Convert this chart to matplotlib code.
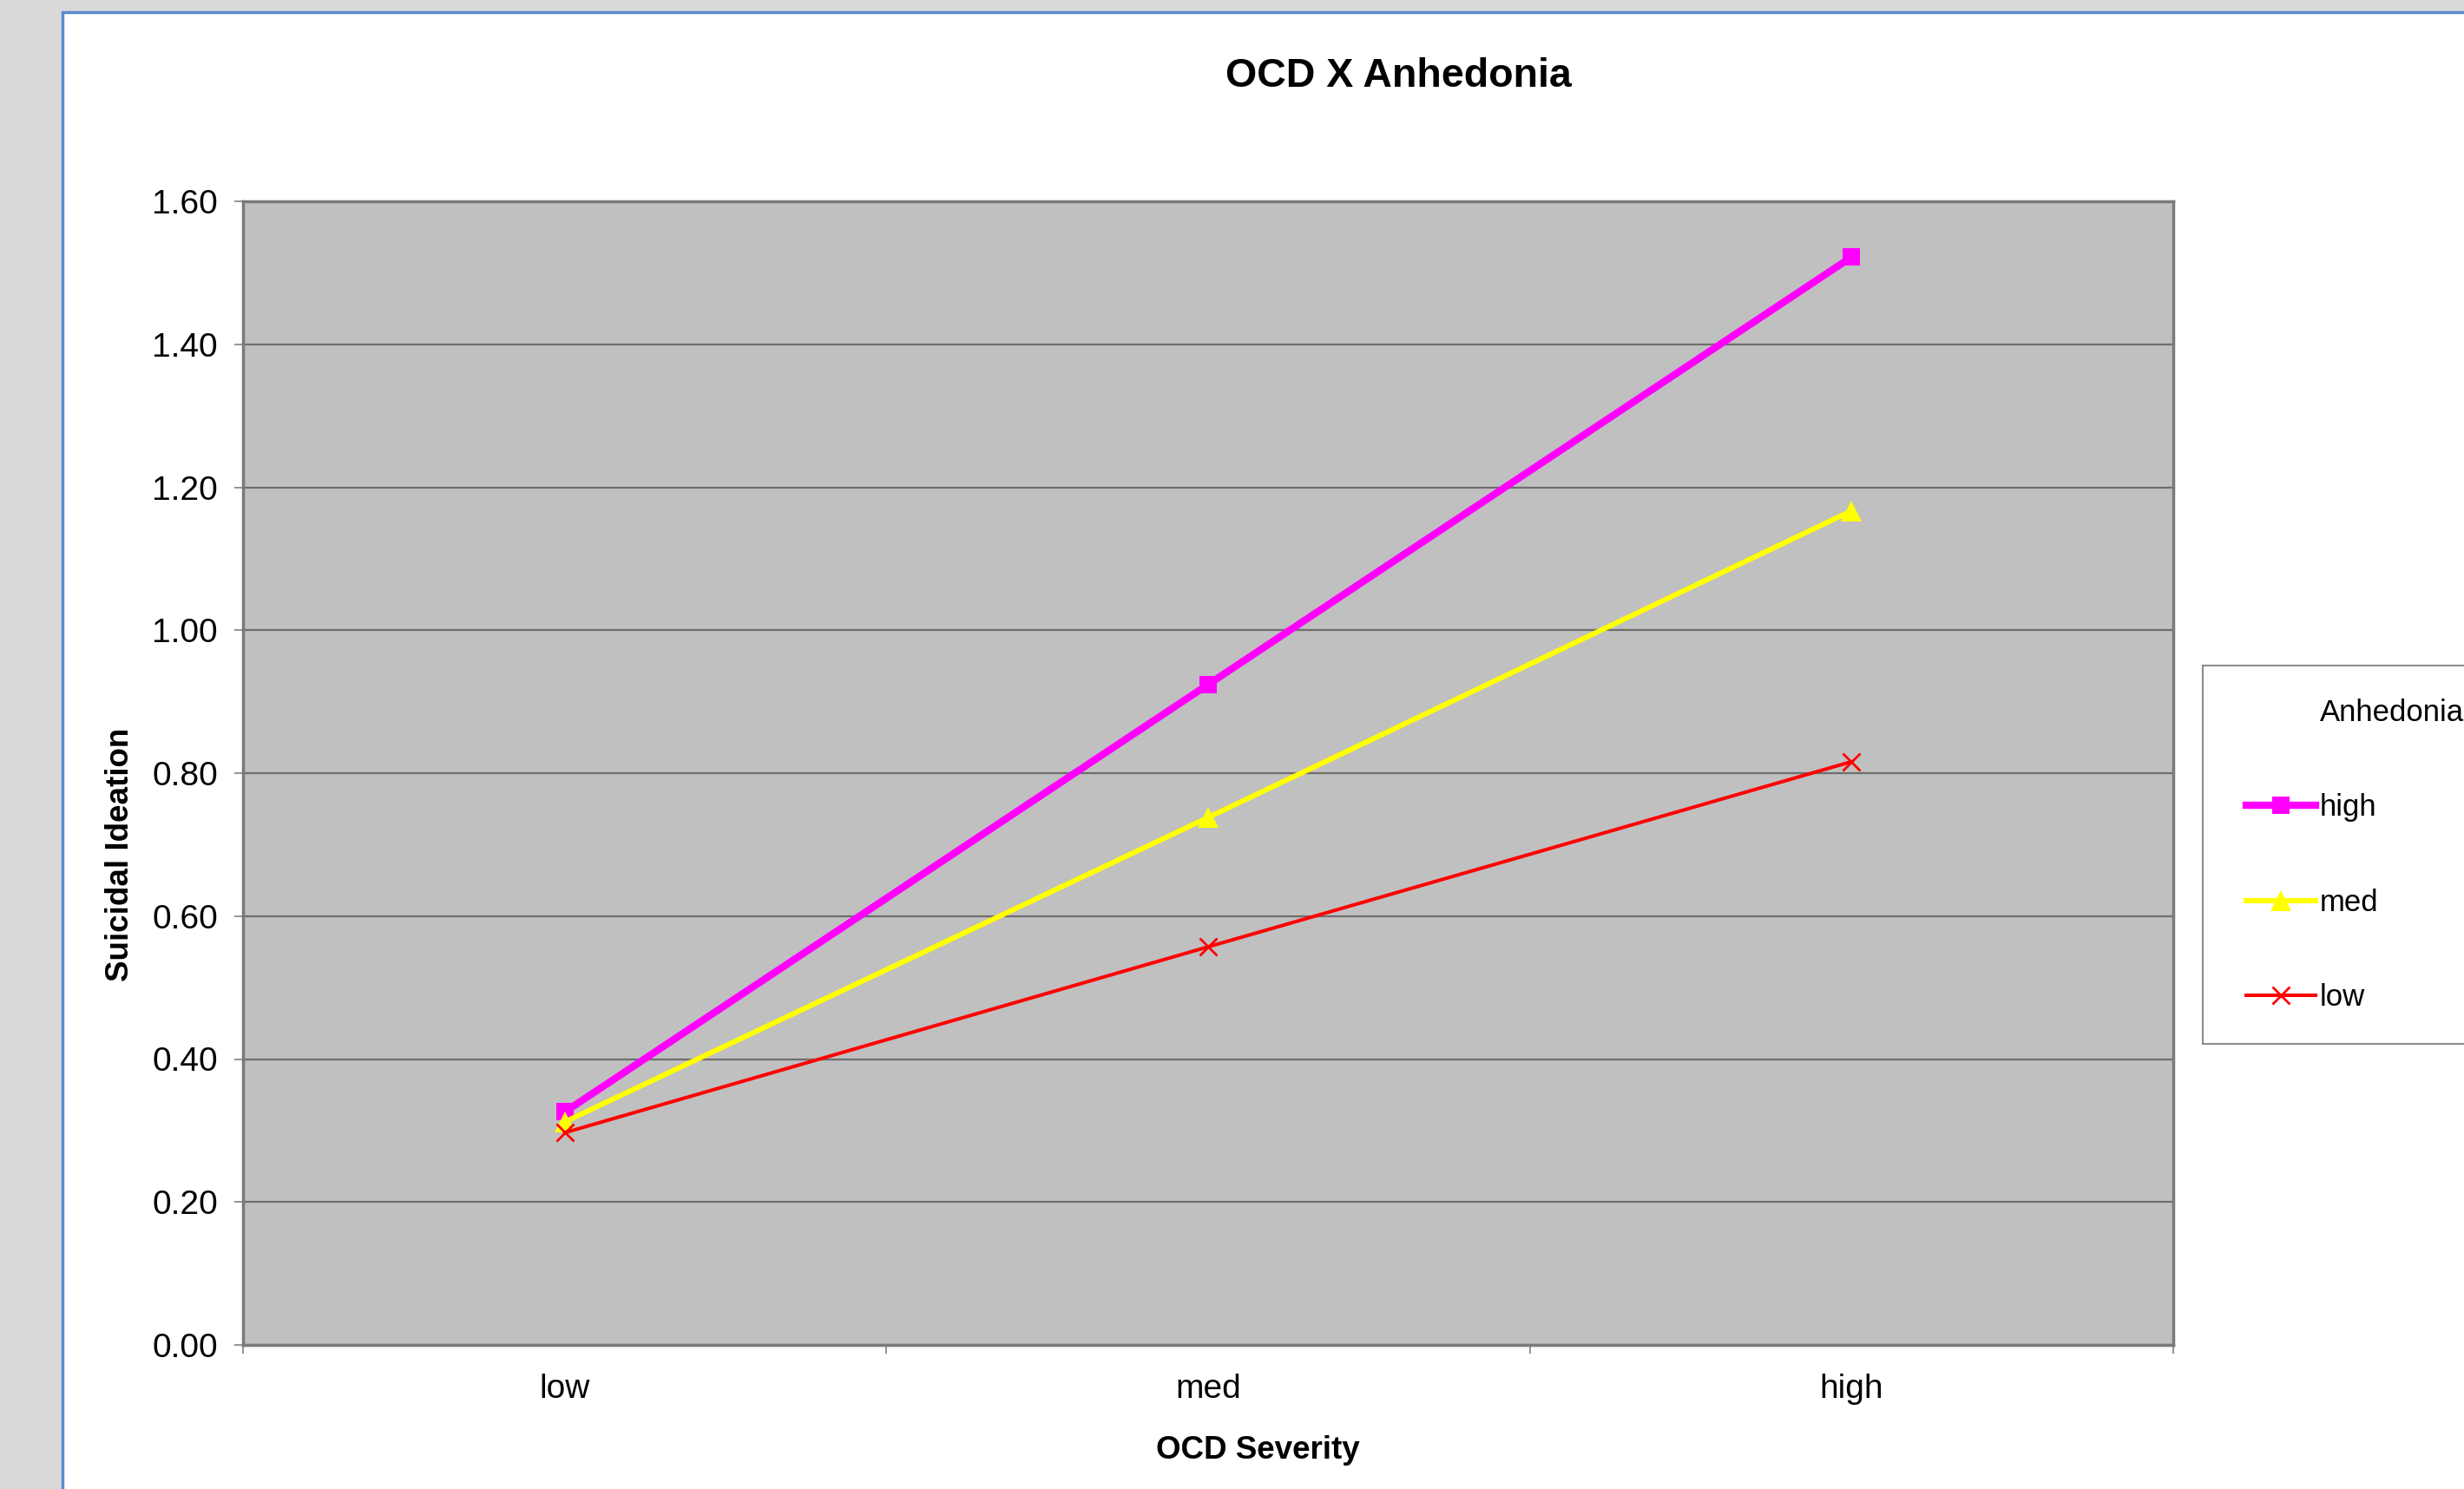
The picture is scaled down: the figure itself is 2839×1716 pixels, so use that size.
import matplotlib.pyplot as plt
from matplotlib.lines import Line2D
from matplotlib.patches import Rectangle

plt.rcParams['font.family'] = ['Liberation Sans', 'DejaVu Sans']

severity = ['low', 'med', 'high']
anhedonia_levels = ['high', 'med', 'low']
suicidal_ideation = {
    'high': [0.326, 0.924, 1.522],
    'med': [0.312, 0.738, 1.167],
    'low': [0.297, 0.557, 0.816],
}
y_ticks = [0.0, 0.2, 0.4, 0.6, 0.8, 1.0, 1.2, 1.4, 1.6]

W, H = 2839, 1716
fig = plt.figure(figsize=(W / 100, H / 100), dpi=100)
fig.patch.set_facecolor('#d9d9d9')

# white chart sheet with blue outline, running off the right/bottom
sheet = Rectangle((72 / W, -0.05), 1.1, 1 - 14 / H + 0.05, transform=fig.transFigure,
                  facecolor='white', edgecolor='#5a8ad2', linewidth=2.5, zorder=-2)
fig.patches.append(sheet)

ax = fig.add_axes([280 / W, 1 - 1550 / H, (2504 - 280) / W, (1550 - 232) / H])
ax.set_facecolor('#c0c0c0')

styles = {
    'high': dict(color='#ff00ff', marker='s', lw=6.0, ms=15, mew=0),
    'med': dict(color='#ffff00', marker='^', lw=4.3, ms=17, mew=0),
    'low': dict(color='#ff0000', marker='x', lw=2.9, ms=14, mew=2.0),
}
x = list(range(len(severity)))
for level in anhedonia_levels:
    st = styles[level]
    ax.plot(x, suicidal_ideation[level], color=st['color'], marker=st['marker'],
            linewidth=st['lw'], markersize=st['ms'], markeredgewidth=st['mew'],
            markeredgecolor=st['color'], label=level, zorder=3, clip_on=False)

ax.set_xlim(-0.5, 2.5)
ax.set_ylim(0, 1.6)
ax.set_yticks(y_ticks)
ax.set_yticklabels([f'{v:.2f}' for v in y_ticks], fontsize=28)
ax.set_xticks(x)
ax.set_xticklabels(severity, fontsize=28)
ax.set_xticks([-0.5, 0.5, 1.5, 2.5], minor=True)
ax.tick_params(axis='x', which='major', length=0, pad=24)
ax.tick_params(axis='x', which='minor', length=7, width=1.2, color='#808080', direction='out')
ax.tick_params(axis='y', length=7, width=1.2, color='#808080', pad=14)

ax.grid(axis='y', color='#6e6e6e', linewidth=1.6)
ax.set_axisbelow(True)
for s in ax.spines.values():
    s.set_color('#7a7a7a')
    s.set_linewidth(2.5)

ax.set_ylabel('Suicidal Ideation', fontsize=26.5, fontweight='bold')
ax.yaxis.set_label_coords(-0.0558, 0.429)
ax.set_xlabel('OCD Severity', fontsize=26.5, fontweight='bold')
ax.xaxis.set_label_coords(0.526, -0.079)

fig.text(1611 / W, 1 - 88 / H, 'OCD X Anhedonia', fontsize=33.5, fontweight='bold',
         ha='center', va='center')

# legend frame, cut off at the right edge
frame = Rectangle((2538 / W, 1 - 1203 / H), 0.2, (1203 - 767) / H, transform=fig.transFigure,
                  facecolor='white', edgecolor='#8c8c8c', linewidth=1.5, zorder=-1)
fig.patches.append(frame)

handles = [Line2D([], [], linestyle='none', marker='none')]
labels = ['Anhedonia']
for level in anhedonia_levels:
    st = styles[level]
    handles.append(Line2D([], [], color=st['color'], marker=st['marker'],
                          linewidth=st['lw'], markersize=st['ms'],
                          markeredgewidth=st['mew'], markeredgecolor=st['color']))
    labels.append(level)
leg = fig.legend(handles, labels, loc='upper left', bbox_to_anchor=(2588 / W, 1 - 805 / H),
                 frameon=False, fontsize=25, handlelength=2.3, handletextpad=0.15,
                 labelspacing=2.2, borderpad=0, borderaxespad=0)
leg.set_zorder(2)

fig.savefig('out.png', dpi=100, facecolor=fig.get_facecolor())
